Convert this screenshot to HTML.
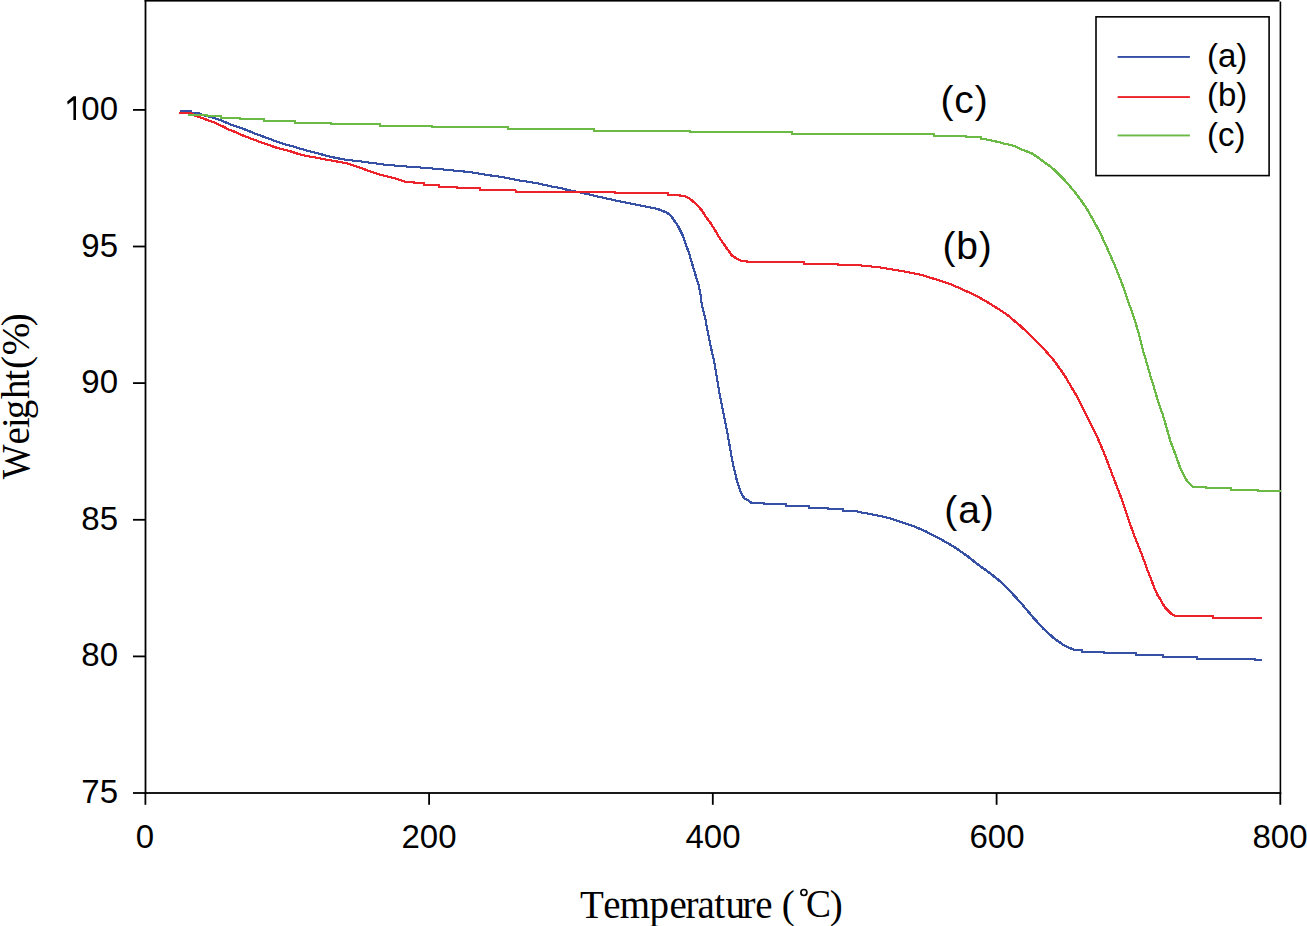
<!DOCTYPE html>
<html><head><meta charset="utf-8"><style>
html,body{margin:0;padding:0;background:#fff;}
body{width:1307px;height:926px;overflow:hidden;position:relative;}
svg{position:absolute;left:0;top:0;}
.s{font-family:"Liberation Sans",sans-serif;}
.f{font-family:"Liberation Serif",serif;}
</style></head><body>
<svg width="1307" height="926" viewBox="0 0 1307 926">
<g fill="#000">
<rect x="144.6" y="0" width="1.8" height="794"/>
<rect x="144.6" y="0" width="1134.8" height="1.6"/>
<rect x="1279.6" y="1.6" width="1.6" height="792.2"/>
<rect x="144.6" y="792.1" width="1136.6" height="1.8"/>
<rect x="133" y="792.1" width="12" height="1.8"/><rect x="133" y="655.5" width="12" height="1.8"/><rect x="133" y="518.9" width="12" height="1.8"/><rect x="133" y="382.2" width="12" height="1.8"/><rect x="133" y="245.6" width="12" height="1.8"/><rect x="133" y="109.0" width="12" height="1.8"/>
<rect x="144.5" y="793" width="1.8" height="11.8"/><rect x="428.2" y="793" width="1.8" height="11.8"/><rect x="711.9" y="793" width="1.8" height="11.8"/><rect x="995.7" y="793" width="1.8" height="11.8"/><rect x="1279.4" y="793" width="1.8" height="11.8"/>
</g>
<defs>
<path id="pa" d="M180.0 111.0L190.7 111.0L191.0 113.0L198.0 113.0L204.5 115.5L213.6 117.8L222.0 120.8L230.0 124.2L239.2 127.3L248.4 130.8L257.5 134.6L266.7 137.8L275.9 141.3L285.1 144.3L290.0 145.6L299.2 148.3L308.4 151.0L317.5 153.1L326.7 156.0L335.9 157.9L345.1 159.7L357.3 161.0L368.9 162.5L383.7 164.5L401.0 166.1L408.2 166.6L421.7 167.6L440.6 169.2L456.4 170.8L470.5 172.1L481.8 174.0L492.8 175.8L502.5 177.0L511.2 178.8L519.9 180.5L529.0 181.9L537.2 183.2L545.3 185.1L553.3 186.9L560.7 188.1L568.2 190.1L575.7 191.6L582.5 193.0L589.7 194.6L597.3 196.5L604.9 198.1L612.2 199.7L619.6 201.3L626.7 202.7L634.6 204.4L643.1 206.0L651.2 207.6L657.8 209.0L663.0 211.1L666.7 212.7L669.0 214.1L671.3 216.4L673.6 219.6L675.9 222.8L678.2 226.5L680.5 231.1L682.8 235.6L684.6 241.1L688.9 252.8L692.1 263.6L695.3 274.3L698.6 285.0L700.7 295.7L701.8 305.0L705.2 318.2L707.8 332.1L711.1 348.2L714.3 362.1L716.4 375.0L719.1 391.0L720.9 400.7L724.1 416.8L727.8 435.0L731.1 454.3L734.3 470.3L735.0 472.0L736.5 479.0L738.4 485.5L739.9 490.0L741.9 494.5L744.5 498.3L748.4 500.6L751.4 502.9L764.4 502.9L764.5 504.4L785.9 504.4L786.0 506.0L808.8 506.0L808.9 507.5L827.6 507.5L827.7 509.1L843.2 509.1L843.3 510.7L853.9 510.7L860.0 512.2L870.7 514.1L881.4 516.2L892.1 518.9L902.8 522.7L913.6 526.2L924.3 530.7L935.0 536.1L945.7 542.0L956.4 548.4L967.1 555.9L977.8 564.4L990.0 573.2L1000.7 581.8L1011.4 592.5L1022.1 604.3L1032.8 617.1L1043.6 628.9L1054.3 638.6L1065.0 646.0L1073.5 649.5L1082.0 650.3L1082.1 651.9L1104.1 651.9L1104.2 653.3L1135.6 653.3L1135.7 654.9L1162.9 654.9L1163.0 656.8L1196.7 656.8L1196.8 658.5L1255.3 658.5L1255.4 660.1L1261.5 660.1" stroke="rgb(54,80,165)"/>
<path id="pb" d="M180.0 112.9L190.0 113.0L196.4 116.3L202.4 117.9L206.0 119.5L210.5 121.1L214.8 122.7L218.0 124.1L221.2 125.7L224.6 127.3L227.9 129.1L231.8 130.7L235.7 132.1L239.1 133.9L243.0 135.5L247.4 137.2L257.5 141.0L266.7 144.3L275.9 147.5L285.1 149.8L290.0 151.2L299.2 154.2L308.4 156.3L317.5 157.9L326.7 159.7L335.9 161.3L345.1 163.0L350.0 164.2L359.2 167.4L368.4 170.7L377.5 173.9L386.7 176.2L395.9 178.7L405.0 181.6L414.2 181.6L414.3 183.4L424.3 183.4L424.4 185.0L439.0 185.0L439.1 186.9L456.9 186.9L457.0 188.3L480.2 188.3L480.3 190.0L515.5 190.0L515.6 191.6L615.0 191.6L615.1 193.2L668.0 193.2L668.1 194.8L680.0 194.8L680.1 196.2L685.2 196.2L688.6 197.9L693.0 201.4L697.3 205.3L701.6 210.0L705.9 216.9L710.2 222.6L714.6 229.5L718.9 236.8L723.2 243.3L727.5 249.3L731.8 255.4L736.2 258.4L740.5 260.6L746.5 260.6L746.6 262.3L804.0 262.3L804.1 263.8L838.0 263.8L838.1 265.3L859.0 265.3L877.0 267.0L887.5 268.7L897.0 270.2L906.5 271.8L914.0 273.4L922.0 275.0L930.7 277.8L941.4 281.1L952.1 284.8L962.8 289.6L973.6 294.4L984.3 300.3L995.0 306.8L1005.7 313.7L1010.7 317.7L1021.4 326.8L1032.1 337.0L1042.8 347.7L1053.6 360.0L1064.3 375.0L1075.0 393.2L1078.2 398.6L1083.6 409.3L1088.9 420.0L1094.3 430.7L1099.6 442.5L1105.0 455.3L1110.3 469.3L1116.8 486.4L1121.4 498.2L1125.7 511.1L1130.0 523.9L1134.3 535.7L1138.6 546.4L1142.8 557.1L1147.0 568.8L1149.8 576.1L1152.3 582.4L1154.7 589.0L1157.5 594.9L1160.4 599.5L1163.2 604.5L1166.0 608.6L1168.8 611.5L1171.6 614.0L1173.7 615.0L1175.8 616.4L1213.0 616.4L1213.1 618.0L1261.3 618.0" stroke="rgb(236,35,42)"/>
<path id="pc" d="M188.0 114.7L206.7 114.7L206.8 116.3L221.0 116.3L221.1 117.8L240.0 117.8L240.1 119.3L264.4 119.3L264.5 120.9L295.0 120.9L295.1 122.5L331.0 122.5L331.1 124.3L380.0 124.3L380.1 125.7L432.0 125.7L432.1 127.3L508.0 127.3L508.1 129.1L594.0 129.1L594.1 130.7L690.4 130.7L690.5 131.8L791.6 131.8L791.7 133.8L933.6 133.8L933.7 135.6L966.2 135.6L966.3 136.9L980.7 136.9L980.8 138.6L986.0 139.4L992.0 140.6L999.0 142.2L1005.0 143.8L1010.5 145.0L1015.5 146.5L1018.5 148.0L1022.7 149.9L1027.3 151.6L1031.9 153.5L1036.5 156.4L1041.1 159.8L1045.7 163.3L1051.2 167.1L1055.9 171.3L1061.9 177.2L1067.8 183.8L1073.8 190.9L1079.7 198.6L1085.7 206.9L1093.6 220.7L1100.0 232.5L1105.7 245.0L1110.0 254.6L1114.3 264.3L1118.6 275.0L1122.8 285.7L1127.1 298.6L1131.4 310.3L1135.7 323.2L1139.5 336.1L1143.2 351.1L1147.0 363.9L1150.7 376.8L1155.0 390.7L1158.7 403.5L1162.8 414.6L1167.1 429.6L1170.5 441.4L1173.0 447.7L1174.7 452.6L1176.1 456.5L1177.9 461.1L1179.6 466.3L1181.1 470.0L1182.8 473.3L1184.2 475.8L1186.0 479.3L1188.1 482.4L1190.9 484.9L1193.0 486.7L1205.6 486.7L1205.7 488.3L1230.9 488.3L1231.0 489.8L1258.2 489.8L1258.3 491.4L1280.0 491.4" stroke="rgb(108,186,70)"/>
</defs>
<g fill="none" stroke-width="1" shape-rendering="crispEdges" transform="translate(-0.5 -0.5)">
<use href="#pa"/><use href="#pa" x="1"/><use href="#pa" y="1"/><use href="#pa" x="1" y="1"/>
<use href="#pb"/><use href="#pb" x="1"/><use href="#pb" y="1"/><use href="#pb" x="1" y="1"/>
<use href="#pc"/><use href="#pc" x="1"/><use href="#pc" y="1"/><use href="#pc" x="1" y="1"/>
</g>
<g class="s" font-size="33" fill="#000">
<text x="118" y="803" text-anchor="end">75</text><text x="118" y="666" text-anchor="end">80</text><text x="118" y="530" text-anchor="end">85</text><text x="118" y="393" text-anchor="end">90</text><text x="118" y="257" text-anchor="end">95</text><text x="118" y="120" text-anchor="end">00</text><path d="M73.4 96.3H76V120H73.4V100.2L67.6 104.4L67.2 101.4Z" fill="#000"/>
<text x="145" y="848" text-anchor="middle">0</text><text x="429" y="848" text-anchor="middle">200</text><text x="713" y="848" text-anchor="middle">400</text><text x="997" y="848" text-anchor="middle">600</text><text x="1280" y="848" text-anchor="middle">800</text>
</g>
<rect x="1096" y="16.85" width="173.1" height="158.75" fill="none" stroke="#000" stroke-width="1.6"/>
<g>
<rect x="1117.6" y="56" width="72.3" height="1.9" fill="rgb(54,80,165)"/>
<rect x="1117.6" y="96.1" width="72.3" height="1.9" fill="rgb(236,35,42)"/>
<rect x="1117.6" y="134.5" width="72.3" height="1.9" fill="rgb(108,186,70)"/>
</g>
<g class="s" font-size="33" fill="#000">
<text x="1207" y="66.6">(a)</text>
<text x="1207" y="105.8">(b)</text>
<text x="1207" y="145.6">(c)</text>
</g>
<g class="s" font-size="39" fill="#000" letter-spacing="0.9">
<text x="940.4" y="113">(c)</text>
<text x="942.4" y="258.7">(b)</text>
<text x="944.3" y="522.8">(a)</text>
</g>
<text class="f" font-size="39" transform="translate(29.2,479.3) rotate(-90) scale(0.95 1)" x="0" y="0">W</text>
<text class="f" font-size="39" transform="translate(29.2,479.3) rotate(-90)" x="34.7 51.2 60 80.3 98.5 110.4 124 153.1" y="0">eight(%)</text>
<g class="f" font-size="39" fill="#000">
<text x="580 603.3 619.8 649.6 669.5 685.4 697.4 714.2 725.6 742.6 755.3" y="917.6">Temperature</text>
<text x="781.7" y="917.6">(</text>
<text x="806.1" y="917.4" transform="translate(806.1 0) scale(0.96 1) translate(-806.1 0)">C</text>
<text x="829.7" y="917.6">)</text>
</g>
<circle cx="803.9" cy="892.5" r="3.0" fill="none" stroke="#000" stroke-width="1.7"/>
</svg>
</body></html>
